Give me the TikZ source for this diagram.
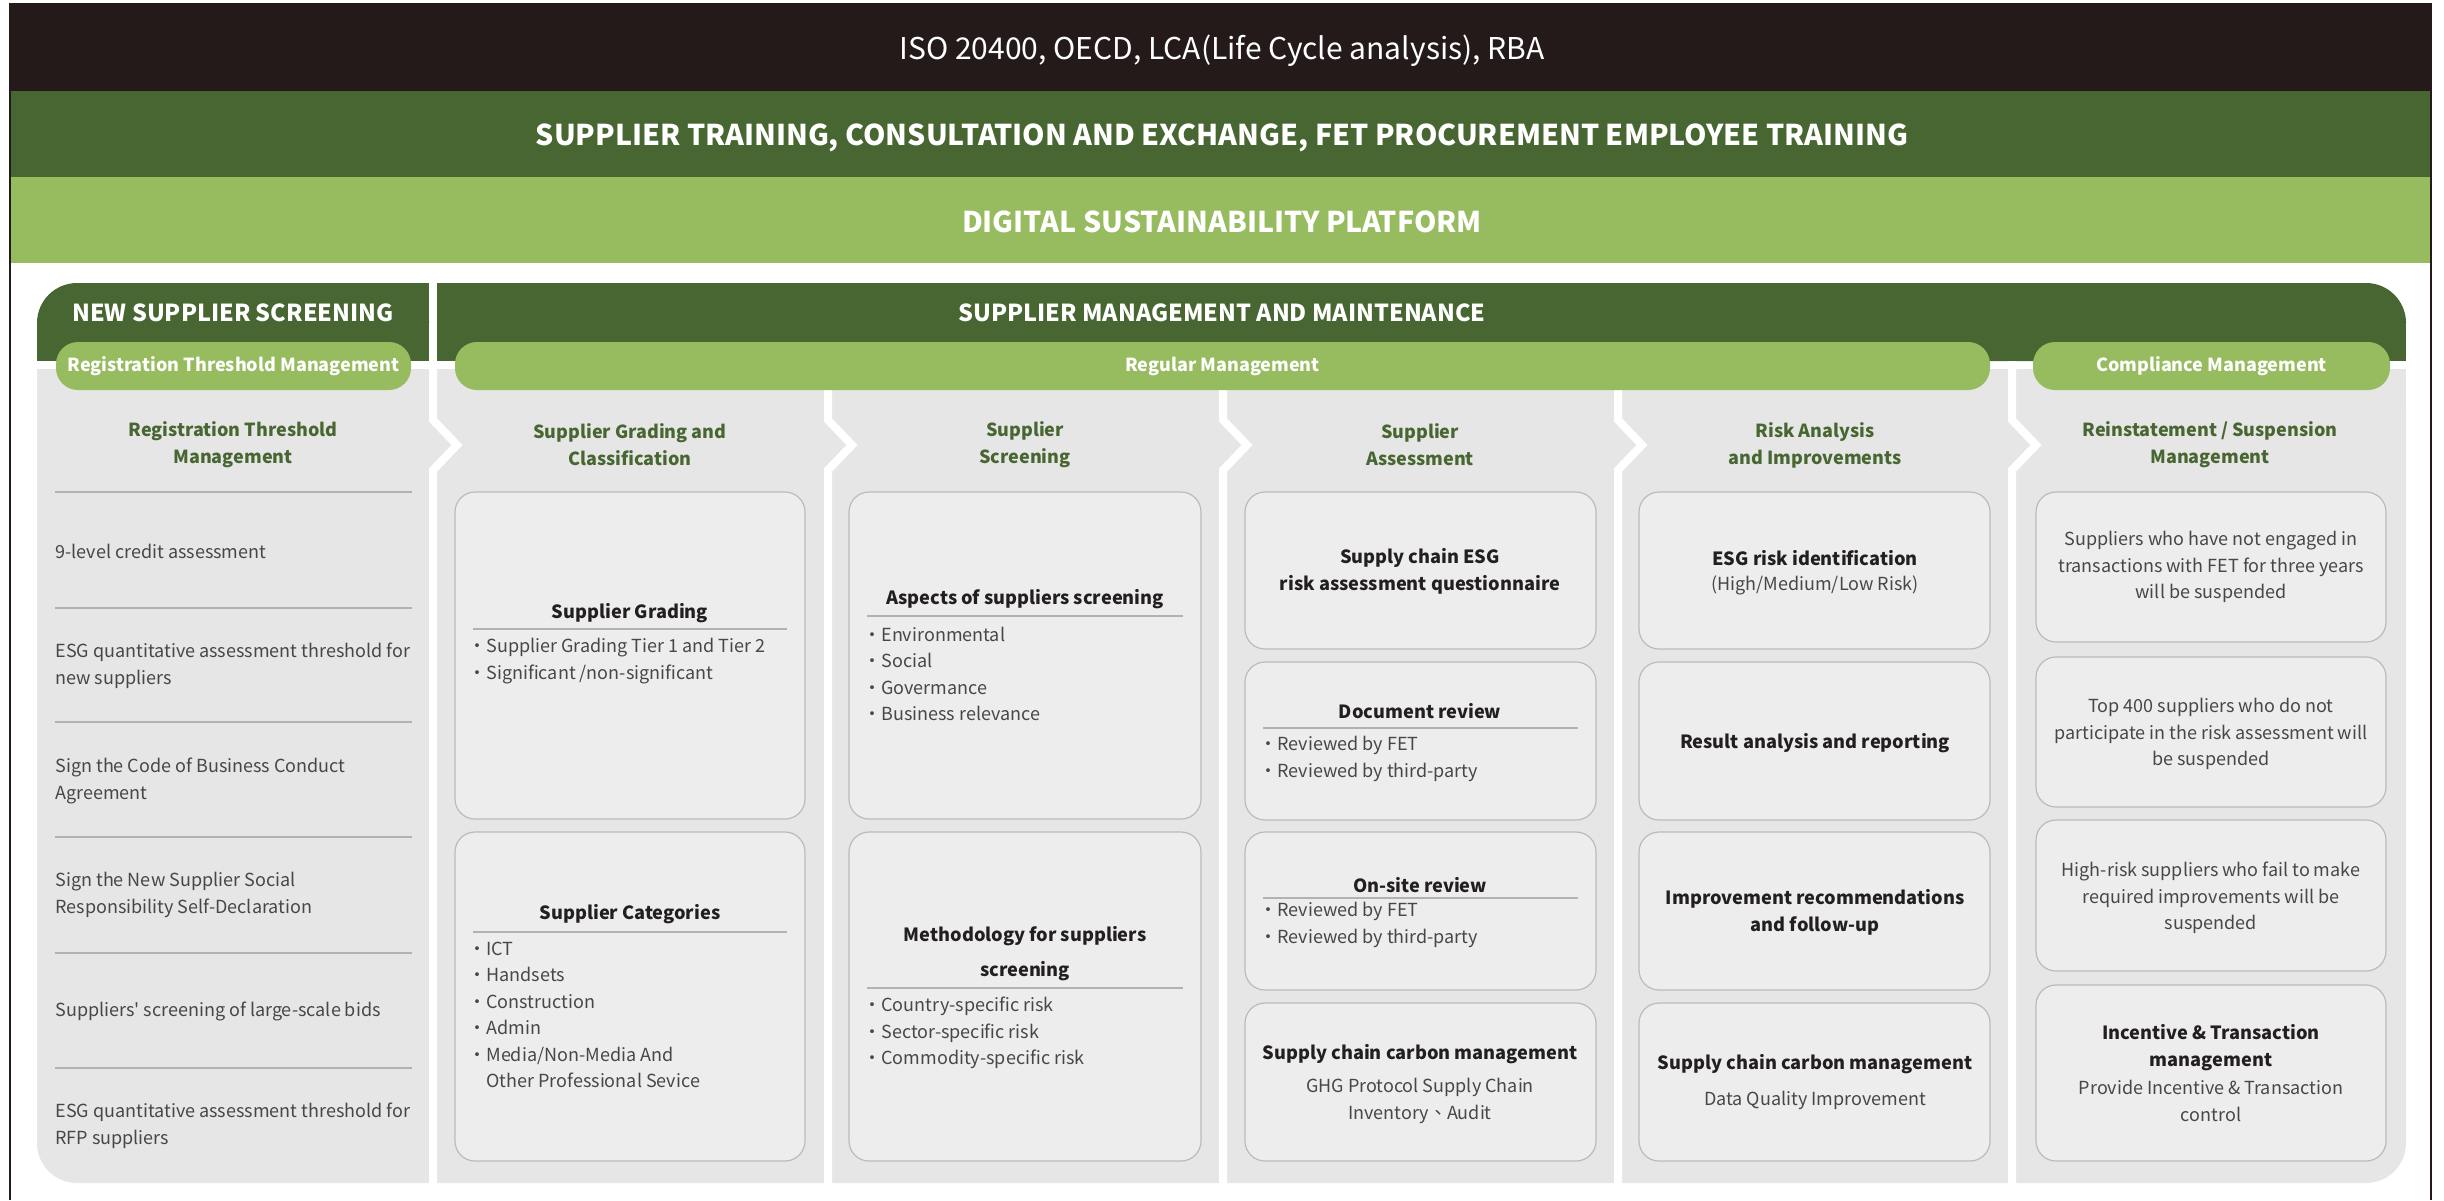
\documentclass[tikz,border=0pt]{standalone}
\usepackage{fontspec}
\setmainfont{Noto Sans CJK TC}
\usetikzlibrary{positioning}

\definecolor{isoBlack}{HTML}{231A19}
\definecolor{fetDark}{HTML}{486631}
\definecolor{fetLight}{HTML}{97BB5F}
\definecolor{colBack}{HTML}{E6E6E6}
\definecolor{cardBack}{HTML}{EDEDED}
\definecolor{cardLine}{HTML}{BBBBBB}
\definecolor{bodyText}{HTML}{474747}
\definecolor{titleText}{HTML}{231F20}
\definecolor{ruleLine}{HTML}{B2B2B2}

\tikzset{
  band/.style={text=white,font=\fontsize{14.3}{17}\selectfont\bfseries,inner sep=0pt},
  head/.style={text=white,font=\fontsize{11.7}{14}\selectfont\bfseries,inner sep=0pt},
  pill/.style={fill=fetLight,rounded corners=11pt,text=white,font=\fontsize{9}{11}\selectfont\bfseries,minimum height=24pt,inner sep=0pt},
  colhead/.style={text=fetDark,font=\fontsize{9}{13.5}\selectfont\bfseries,align=center,inner sep=0pt},
  card/.style={fill=cardBack,draw=cardLine,line width=0.6pt,rounded corners=10pt},
  cardtitle/.style={text=titleText,font=\fontsize{9.1}{13.5}\selectfont\bfseries,align=center,inner sep=0pt},
  cardtext/.style={text=bodyText,font=\fontsize{9}{13.25}\selectfont,align=center,inner sep=0pt},
  item/.style={text=bodyText,font=\fontsize{9}{13.25}\selectfont,align=left,anchor=west,inner sep=0pt},
  rule/.style={draw=ruleLine,line width=0.8pt}
}

\begin{document}
\begin{tikzpicture}[x=0.5pt,y=-0.5pt]
\useasboundingbox (0,0) rectangle (2444,1200);

% top bands
\fill[isoBlack] (10,4) rectangle (2431,91);
\fill[fetDark] (10,91) rectangle (2431,177);
\fill[fetLight] (10,177) rectangle (2431,263);
\draw[isoBlack,line width=1pt] (10,1200) -- (10,4) -- (2431,4) -- (2431,1200);
\node[band,font=\fontsize{15}{18}\selectfont] (iso) at (1222,51) {ISO 20400, OECD, LCA(Life Cycle analysis), RBA};
\node[band] (training) at (1222,138) {SUPPLIER TRAINING, CONSULTATION AND EXCHANGE, FET PROCUREMENT EMPLOYEE TRAINING};
\node[band] (platform) at (1222,222) {DIGITAL SUSTAINABILITY PLATFORM};

% header bars
\fill[fetDark,rounded corners=20pt] (37,283) rectangle (429,361);
\fill[fetDark] (37,321) rectangle (429,361);
\fill[fetDark] (77,283) rectangle (429,361);
\fill[fetDark,rounded corners=20pt] (437,283) rectangle (2406,361);
\fill[fetDark] (437,321) rectangle (2406,361);
\fill[fetDark] (437,283) rectangle (2366,361);
\node[head] (newScreen) at (233,313) {NEW SUPPLIER SCREENING};
\node[head] (mgmt) at (1222,313) {SUPPLIER MANAGEMENT AND MAINTENANCE};

% grey body and chevron separators
\fill[colBack,rounded corners=20pt] (37,369) rectangle (2406,1183);
\fill[colBack] (37,369) rectangle (2406,420);
\foreach \sx in {433,828,1223,1618,2012}
  \draw[white,line width=4pt] (\sx,361) -- (\sx,420) -- (\sx+24,445) -- (\sx,470) -- (\sx,1190);

% pills
\node[pill,minimum width=177.5pt] (regPill) at (233.5,366) {Registration Threshold Management};
\node[pill,minimum width=767.5pt] (regularPill) at (1222.5,366) {Regular Management};
\node[pill,minimum width=178.5pt] (compPill) at (2211.5,366) {Compliance Management};

% column heads
\node[colhead] (regHead) at (233,445) {Registration Threshold\\Management};
\node[colhead] (gradeHead) at (630,445) {Supplier Grading and\\Classification};
\node[colhead] (screenHead) at (1025,445) {Supplier\\Screening};
\node[colhead] (assessHead) at (1420,445) {Supplier\\Assessment};
\node[colhead] (riskHead) at (1815,445) {Risk Analysis\\and Improvements};
\node[colhead] (suspHead) at (2210,445) {Reinstatement / Suspension\\Management};

% registration threshold list
\foreach \ly in {492,608,722,837,953,1068}
  \draw[rule] (55,\ly) -- (412,\ly);
\node[item] (reg1) at (55,551) {9-level credit assessment};
\node[item] (reg2) at (55,666) {ESG quantitative assessment threshold for\\new suppliers};
\node[item] (reg3) at (55,781) {Sign the Code of Business Conduct\\Agreement};
\node[item] (reg4) at (55,895) {Sign the New Supplier Social\\Responsibility Self-Declaration};
\node[item] (reg5) at (55,1011) {Suppliers\textquotesingle\ screening of large-scale bids};
\node[item] (reg6) at (55,1126) {ESG quantitative assessment threshold for\\RFP suppliers};

% grading and classification
\draw[card] (455,492) rectangle (805,819);
\draw[card] (455,832) rectangle (805,1161);
\node[cardtitle] (gradeT) at (630,613) {Supplier Grading};
\draw[rule] (473,629) -- (787,629);
\node[item] (gradeL) at (468,661) {・Supplier Grading Tier 1 and Tier 2\\・Significant /non-significant};
\node[cardtitle] (catT) at (630,914) {Supplier Categories};
\draw[rule] (473,932) -- (787,932);
\node[item] (catL) at (468,1015) {・ICT\\・Handsets\\・Construction\\・Admin\\・Media/Non-Media And\\\hphantom{・}Other Professional Sevice};

% screening
\draw[card] (849,492) rectangle (1201,819);
\draw[card] (849,832) rectangle (1201,1161);
\node[cardtitle] (aspT) at (1025,599) {Aspects of suppliers screening};
\draw[rule] (867,616) -- (1183,616);
\node[item] (aspL) at (863,674) {・Environmental\\・Social\\・Govermance\\・Business relevance};
\node[cardtitle,font=\fontsize{9.1}{17.5}\selectfont\bfseries] (methT) at (1025,954) {Methodology for suppliers\\screening};
\draw[rule] (867,988) -- (1183,988);
\node[item] (methL) at (863,1033) {・Country-specific risk\\・Sector-specific risk\\・Commodity-specific risk};

% assessment
\draw[card] (1245,492) rectangle (1596,649);
\draw[card] (1245,662) rectangle (1596,820);
\draw[card] (1245,832) rectangle (1596,990);
\draw[card] (1245,1003) rectangle (1596,1161);
\node[cardtitle] (quesT) at (1420,571) {Supply chain ESG\\risk assessment questionnaire};
\node[cardtitle] (docT) at (1420,711) {Document review};
\draw[rule] (1263,728) -- (1578,728);
\node[item] (docL) at (1259,759) {・Reviewed by FET\\・Reviewed by third-party};
\node[cardtitle] (siteT) at (1420,885) {On-site review};
\draw[rule] (1263,898) -- (1578,898);
\node[item] (siteL) at (1259,925) {・Reviewed by FET\\・Reviewed by third-party};
\node[cardtitle] (carbT) at (1420,1054) {Supply chain carbon management};
\node[cardtext] (carbL) at (1420,1101) {GHG Protocol Supply Chain\\Inventory、Audit};

% risk analysis
\draw[card] (1639,492) rectangle (1990,649);
\draw[card] (1639,662) rectangle (1990,820);
\draw[card] (1639,832) rectangle (1990,990);
\draw[card] (1639,1003) rectangle (1990,1161);
\node[cardtitle] (idT) at (1815,558) {ESG risk identification};
\node[cardtext] (idL) at (1815,585) {(High/Medium/Low Risk)};
\node[cardtitle] (resT) at (1815,743) {Result analysis and reporting};
\node[cardtitle] (impT) at (1815,912) {Improvement recommendations\\and follow-up};
\node[cardtitle] (dataT) at (1815,1064) {Supply chain carbon management};
\node[cardtext] (dataL) at (1815,1100) {Data Quality Improvement};

% reinstatement / suspension
\draw[card] (2036,492) rectangle (2386,642);
\draw[card] (2036,657) rectangle (2386,807);
\draw[card] (2036,820) rectangle (2386,971);
\draw[card] (2036,985) rectangle (2386,1161);
\node[cardtext] (susp1) at (2211,567) {Suppliers who have not engaged in\\transactions with FET for three years\\will be suspended};
\node[cardtext] (susp2) at (2211,734) {Top 400 suppliers who do not\\participate in the risk assessment will\\be suspended};
\node[cardtext] (susp3) at (2211,898) {High-risk suppliers who fail to make\\required improvements will be\\suspended};
\node[cardtitle] (incT) at (2211,1048) {Incentive \& Transaction\\management};
\node[cardtext] (incL) at (2211,1101) {Provide Incentive \& Transaction\\control};

\end{tikzpicture}
\end{document}
